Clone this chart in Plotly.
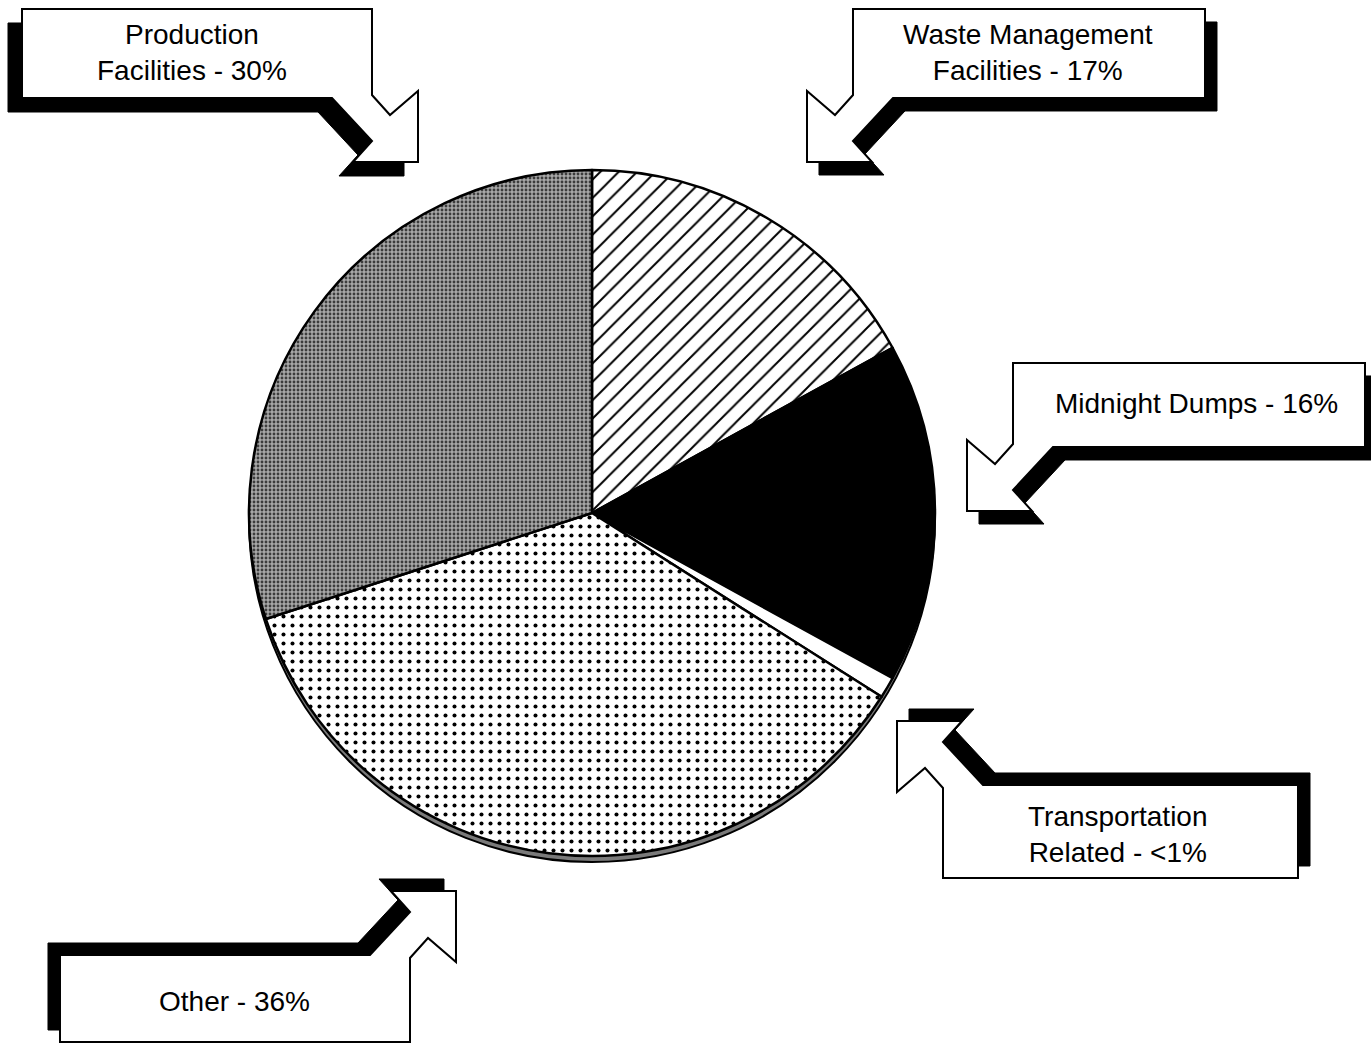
import plotly.graph_objects as go

# ---------------- data ----------------
categories = ["Waste Management Facilities", "Midnight Dumps", "Transportation Related",
              "Other", "Production Facilities"]
shares = [17, 16, 1, 36, 30]
callout_texts = ["Waste Management<br>Facilities - 17%", "Midnight Dumps - 16%",
                 "Transportation<br>Related - <1%", "Other - 36%",
                 "Production<br>Facilities - 30%"]

# ---------------- styling ----------------
W, H = 1371, 1044
slice_colors = ["#ffffff", "#000000", "#ffffff", "#ffffff", "#9a9a9a"]
pat_shape = ["/", "", "", ".", "."]
pat_fg = ["#000000", "#000000", "#000000", "#000000", "#3c3c3c"]
pat_bg = ["#ffffff", "#000000", "#ffffff", "#ffffff", "#a8a8a8"]
pat_size = [13, 8, 8, 9, 4]
pat_solid = [0.15, 0.3, 0.3, 0.16, 0.4]

# pie placement (pixels)
cx, cy, r = 592, 513, 343


def px(x):
    return x / W


def py(y):
    return 1 - y / H


# callout geometry (pixels): box, arrow corner, shadow offset, text centre
callouts = [
    dict(box=(853, 9, 1205, 98), corner="BL", sh=(12, 13), txt=(1028, 53)),
    dict(box=(1013, 363, 1365, 447), corner="BL", sh=(12, 13), txt=(1196, 404)),
    dict(box=(943, 785, 1298, 878), corner="TL", sh=(12, -12), txt=(1118, 834)),
    dict(box=(60, 955, 410, 1042), corner="TR", sh=(-12, -12), txt=(234, 1001)),
    dict(box=(22, 9, 372, 98), corner="BR", sh=(-14, 14), txt=(192, 53)),
]

arrow_tpl = [(0, -3), (18, 17), (46, -7), (46, 64), (-19, 64), (0, 43), (-40, 0)]


def callout_poly(box, corner):
    x0, y0, x1, y1 = box
    corners = {"TL": (x0, y0), "TR": (x1, y0), "BR": (x1, y1), "BL": (x0, y1)}
    signs = {"TL": (-1, -1), "TR": (1, -1), "BR": (1, 1), "BL": (-1, 1)}
    forward = {"TL": True, "TR": False, "BR": True, "BL": False}
    pts = []
    for c in ["TL", "TR", "BR", "BL"]:
        if c == corner:
            ox, oy = corners[c]
            sx, sy = signs[c]
            seq = [(ox + sx * dx, oy + sy * dy) for dx, dy in arrow_tpl]
            if not forward[c]:
                seq = seq[::-1]
            pts.extend(seq)
        else:
            pts.append(corners[c])
    return pts


def to_path(pts, off=(0, 0)):
    s = ""
    for i, (x, y) in enumerate(pts):
        s += ("M" if i == 0 else "L") + f"{px(x + off[0]):.5f},{py(y + off[1]):.5f} "
    return s + "Z"


shapes = []
# 3D rim under the pie
shapes.append(dict(type="circle", xref="paper", yref="paper", layer="below",
                   x0=px(cx - r), x1=px(cx + r), y0=py(cy + r + 6), y1=py(cy - r + 6),
                   fillcolor="#7a7a7a", line=dict(color="#000000", width=2)))

annotations = []
for co, text in zip(callouts, callout_texts):
    pts = callout_poly(co["box"], co["corner"])
    shapes.append(dict(type="path", xref="paper", yref="paper", path=to_path(pts, co["sh"]),
                       fillcolor="#000000", line=dict(color="#000000", width=1)))
    shapes.append(dict(type="path", xref="paper", yref="paper", path=to_path(pts),
                       fillcolor="#ffffff", line=dict(color="#000000", width=2)))
    annotations.append(dict(x=px(co["txt"][0]), y=py(co["txt"][1]), xref="paper", yref="paper",
                            text=text, showarrow=False, xanchor="center", yanchor="middle",
                            font=dict(family="Liberation Sans, Arial, sans-serif", size=28,
                                      color="#000000")))

fig = go.Figure(go.Pie(
    labels=categories,
    values=shares,
    sort=False,
    direction="clockwise",
    rotation=0,
    textinfo="none",
    hoverinfo="label+percent",
    showlegend=False,
    domain=dict(x=[px(cx - r), px(cx + r)], y=[py(cy + r), py(cy - r)]),
    marker=dict(colors=slice_colors,
                line=dict(color="#000000", width=2.5),
                pattern=dict(shape=pat_shape, fgcolor=pat_fg, bgcolor=pat_bg,
                             size=pat_size, solidity=pat_solid, fillmode="replace")),
))

fig.update_layout(
    width=W, height=H,
    margin=dict(l=0, r=0, t=0, b=0, pad=0),
    paper_bgcolor="#ffffff",
    plot_bgcolor="#ffffff",
    shapes=shapes,
    annotations=annotations,
    showlegend=False,
)

fig.write_html("out.html", config={"displayModeBar": False},
               post_script="document.body.style.margin='0';")
